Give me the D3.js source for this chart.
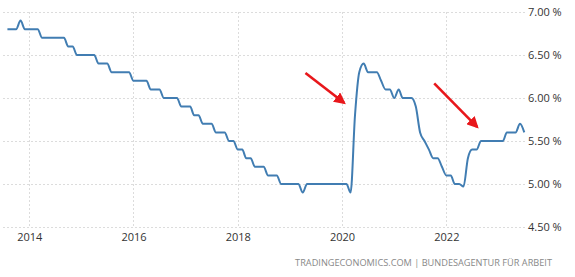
<!DOCTYPE html>
<html>
<head>
<meta charset="utf-8">
<script src="https://cdn.jsdelivr.net/npm/d3@7"></script>
<style>
  html, body { margin: 0; padding: 0; background: #fff; }
  svg { display: block; font-family: "Open Sans", "Noto Sans", sans-serif; }
</style>
</head>
<body>
<svg width="575" height="277"></svg>
<script>
// monthly unemployment rate, first month Aug 2013
const startMonth = '2013-08';
const rates = [
  6.8, 6.8, 6.8, 6.9, 6.8,                                          // 2013
  6.8, 6.8, 6.8, 6.7, 6.7, 6.7, 6.7, 6.7, 6.7, 6.6, 6.6, 6.5,       // 2014
  6.5, 6.5, 6.5, 6.5, 6.4, 6.4, 6.4, 6.3, 6.3, 6.3, 6.3, 6.3,       // 2015
  6.2, 6.2, 6.2, 6.2, 6.1, 6.1, 6.1, 6.0, 6.0, 6.0, 6.0, 5.9,       // 2016
  5.9, 5.9, 5.8, 5.8, 5.7, 5.7, 5.7, 5.6, 5.6, 5.6, 5.5, 5.5,       // 2017
  5.4, 5.4, 5.3, 5.3, 5.2, 5.2, 5.2, 5.1, 5.1, 5.1, 5.0, 5.0,       // 2018
  5.0, 5.0, 5.0, 4.9, 5.0, 5.0, 5.0, 5.0, 5.0, 5.0, 5.0, 5.0,       // 2019
  5.0, 5.0, 4.9, 5.8, 6.3, 6.4, 6.3, 6.3, 6.3, 6.2, 6.1, 6.1,       // 2020
  6.0, 6.1, 6.0, 6.0, 6.0, 5.9, 5.6, 5.5, 5.4, 5.3, 5.3, 5.2,       // 2021
  5.1, 5.1, 5.0, 5.0, 4.97, 5.3, 5.4, 5.4, 5.5, 5.5, 5.5, 5.5,      // 2022
  5.5, 5.5, 5.6, 5.6, 5.6, 5.7, 5.6                                 // 2023
];

const yTicks = [4.5, 5.0, 5.5, 6.0, 6.5, 7.0];
const xTickYears = [2014, 2016, 2018, 2020, 2022];
const sourceText = 'TRADINGECONOMICS.COM | BUNDESAGENTUR FÜR ARBEIT';

// red annotation arrows: [from date, from value, to date, to value]
const arrows = [
  ['2019-04-20', 6.29, '2020-01-15', 5.945],
  ['2021-10-08', 6.17, '2022-08-04', 5.665]
];

const parseDay = d3.timeParse('%Y-%m-%d');
const first = d3.timeParse('%Y-%m')(startMonth);
const data = rates.map((v, i) => ({ date: d3.timeMonth.offset(first, i), value: v }));

const svg = d3.select('svg');

/* ==================================
Scales
================================== */
const xScale = d3.scaleTime()
  .domain([parseDay('2013-07-01'), parseDay('2023-07-20')])
  .range([3, 527]);

const yScale = d3.scaleLinear()
  .domain([4.5, 7.0])
  .range([227, 12]);

/* ==================================
Grid
================================== */
svg.append('g')
  .selectAll('line')
  .data(yTicks)
  .enter()
  .append('line')
  .attr('x1', 3)
  .attr('x2', 527)
  .attr('y1', (d) => yScale(d) + 0.5)
  .attr('y2', (d) => yScale(d) + 0.5)
  .attr('stroke', '#dcdcdc')
  .attr('stroke-dasharray', '2,2');

svg.append('g')
  .selectAll('line')
  .data(xTickYears)
  .enter()
  .append('line')
  .attr('x1', (d) => Math.round(xScale(new Date(d, 0, 1))) + 0.5)
  .attr('x2', (d) => Math.round(xScale(new Date(d, 0, 1))) + 0.5)
  .attr('y1', yScale(7.0))
  .attr('y2', yScale(4.5))
  .attr('stroke', '#dcdcdc')
  .attr('stroke-dasharray', '2,2');

/* ==================================
Axes
================================== */
const yAxis = svg.append('g')
  .attr('transform', 'translate(526, 0)')
  .call(d3.axisRight(yScale)
    .tickValues(yTicks)
    .tickSize(0)
    .tickPadding(2)
    .tickFormat((d) => d3.format('.2f')(d) + ' %'));

const xAxis = svg.append('g')
  .attr('transform', `translate(0, ${yScale(4.5)})`)
  .call(d3.axisBottom(xScale)
    .tickValues(xTickYears.map((y) => new Date(y, 0, 1)))
    .tickSize(0)
    .tickPadding(6)
    .tickFormat(d3.timeFormat('%Y')));

[yAxis, xAxis].forEach((ax) => {
  ax.select('.domain').remove();
  ax.selectAll('text')
    .attr('fill', '#333')
    .style('font-size', '11px')
    .style('font-family', '"Open Sans", "Noto Sans", sans-serif');
});

/* ==================================
Line
================================== */
const line = d3.line()
  .x((d) => xScale(d.date))
  .y((d) => yScale(d.value))
  .curve(d3.curveMonotoneX);

svg.append('path')
  .datum(data)
  .attr('fill', 'none')
  .attr('stroke', '#417db2')
  .attr('stroke-width', 2)
  .attr('stroke-linejoin', 'round')
  .attr('d', line);

/* ==================================
Arrows
================================== */
svg.append('defs')
  .append('marker')
  .attr('id', 'head')
  .attr('viewBox', '0 0 10 10')
  .attr('refX', 8)
  .attr('refY', 5)
  .attr('markerWidth', 4.5)
  .attr('markerHeight', 4.5)
  .attr('orient', 'auto')
  .append('path')
  .attr('d', 'M0,0 L10,5 L0,10 Z')
  .attr('fill', '#e8171b');

svg.append('g')
  .selectAll('line')
  .data(arrows)
  .enter()
  .append('line')
  .attr('x1', (d) => xScale(parseDay(d[0])))
  .attr('y1', (d) => yScale(d[1]))
  .attr('x2', (d) => xScale(parseDay(d[2])))
  .attr('y2', (d) => yScale(d[3]))
  .attr('stroke', '#e8171b')
  .attr('stroke-width', 2.6)
  .attr('marker-end', 'url(#head)');

/* ==================================
Source
================================== */
svg.append('text')
  .attr('x', 552)
  .attr('y', 266)
  .attr('text-anchor', 'end')
  .attr('fill', '#888')
  .style('font-size', '9.2px')
  .text(sourceText);
</script>
</body>
</html>
